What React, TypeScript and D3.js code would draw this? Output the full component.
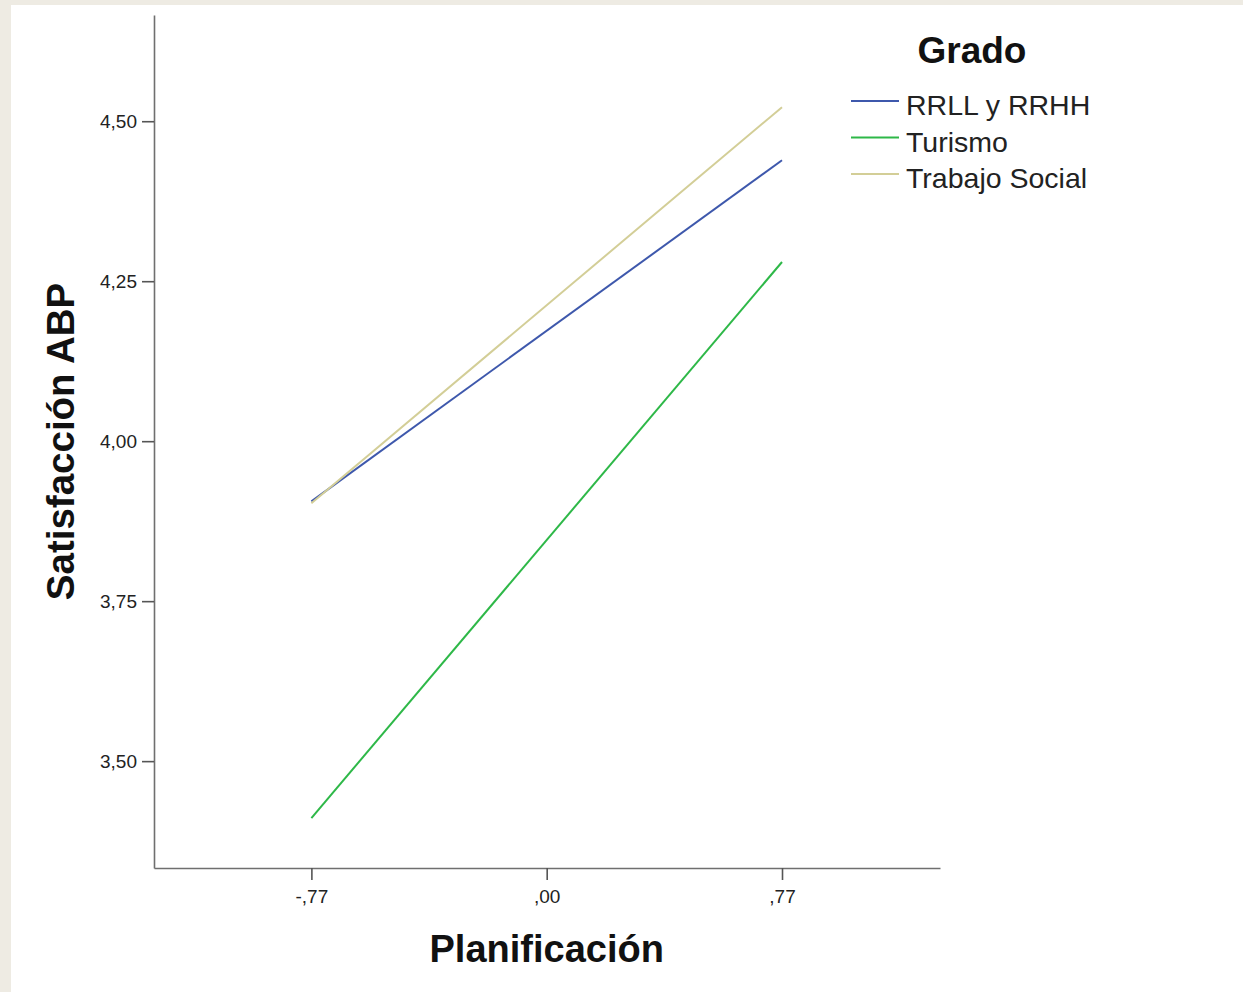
import React, { useEffect, useRef } from "react";
import * as d3 from "d3";

// Estimated marginal means
const grados = ["RRLL y RRHH", "Turismo", "Trabajo Social"];
const colores = ["#3E58AC", "#2EB848", "#D3CE97"];
const planificacionNiveles = [-0.77, 0.77];
const satisfaccionBaja = [3.906, 3.411, 3.903];
const satisfaccionAlta = [4.439, 4.28, 4.522];

const xTicks = [-0.77, 0, 0.77];
const yTicks = [3.5, 3.75, 4.0, 4.25, 4.5];

const W = 1243;
const H = 992;
const FONT = "Liberation Sans, Arial, sans-serif";

// SPSS style numbers: 4,50 / ,00 / -,77
const fmt = (v: number) => {
  const s = Math.abs(v).toFixed(2).replace(".", ",").replace(/^0,/, ",");
  return (v < 0 ? "-" : "") + s;
};

export default function App() {
  const svgRef = useRef<SVGSVGElement | null>(null);

  useEffect(() => {
    const svg = d3.select(svgRef.current);
    svg.selectAll("*").remove();

    const x = d3.scaleLinear().domain([-1.285, 1.287]).range([154, 940]);
    const y = d3.scaleLinear().domain([3.333, 4.666]).range([868, 15]);

    // background frame
    svg.append("rect").attr("width", W).attr("height", H).attr("fill", "#EEEBE3");
    svg
      .append("rect")
      .attr("x", 11)
      .attr("y", 5)
      .attr("width", W - 11)
      .attr("height", H - 5)
      .attr("fill", "#ffffff");

    // axes
    const yAxis = svg
      .append("g")
      .attr("transform", `translate(${x.range()[0]},0)`)
      .call(
        d3
          .axisLeft(y)
          .tickValues(yTicks)
          .tickFormat((d) => fmt(d as number))
          .tickSize(12)
          .tickSizeOuter(0)
          .tickPadding(5)
      );

    const xAxis = svg
      .append("g")
      .attr("transform", `translate(0,${y.range()[0]})`)
      .call(
        d3
          .axisBottom(x)
          .tickValues(xTicks)
          .tickFormat((d) => fmt(d as number))
          .tickSize(12)
          .tickSizeOuter(0)
          .tickPadding(10)
      );

    [yAxis, xAxis].forEach((g) => {
      g.select(".domain").attr("stroke", "#6f6f6f").attr("stroke-width", 1.6);
      g.selectAll(".tick line").attr("stroke", "#555").attr("stroke-width", 1.6);
      g.selectAll(".tick text")
        .attr("fill", "#222")
        .style("font-family", FONT)
        .style("font-size", "19px");
    });

    // lines
    const line = d3
      .line<[number, number]>()
      .x((d) => x(d[0]))
      .y((d) => y(d[1]));

    grados.forEach((g, i) => {
      const pts: [number, number][] = [
        [planificacionNiveles[0], satisfaccionBaja[i]],
        [planificacionNiveles[1], satisfaccionAlta[i]],
      ];
      svg
        .append("path")
        .datum(pts)
        .attr("fill", "none")
        .attr("stroke", colores[i])
        .attr("stroke-width", 2)
        .attr("d", line);
    });

    // axis titles
    svg
      .append("text")
      .attr("x", x(0))
      .attr("y", 962)
      .attr("text-anchor", "middle")
      .style("font-family", FONT)
      .style("font-weight", "bold")
      .style("font-size", "38px")
      .attr("fill", "#111")
      .text("Planificación");

    svg
      .append("text")
      .attr("transform", `translate(74,${(y.range()[0] + y.range()[1]) / 2}) rotate(-90)`)
      .attr("text-anchor", "middle")
      .style("font-family", FONT)
      .style("font-weight", "bold")
      .style("font-size", "38.5px")
      .attr("fill", "#111")
      .text("Satisfacción ABP");

    // legend
    const legend = svg.append("g");
    legend
      .append("text")
      .attr("x", 972)
      .attr("y", 63)
      .attr("text-anchor", "middle")
      .style("font-family", FONT)
      .style("font-weight", "bold")
      .style("font-size", "37px")
      .attr("fill", "#111")
      .text("Grado");

    grados.forEach((g, i) => {
      const ly = 101 + i * 36.5;
      legend
        .append("line")
        .attr("x1", 851)
        .attr("x2", 899)
        .attr("y1", ly)
        .attr("y2", ly)
        .attr("stroke", colores[i])
        .attr("stroke-width", 2);
      legend
        .append("text")
        .attr("x", 906)
        .attr("y", ly + 14)
        .style("font-family", FONT)
        .style("font-size", "28.5px")
        .attr("fill", "#222")
        .text(g);
    });
  }, []);

  return (
    <div style={{ position: "absolute", left: 0, top: 0, width: W, height: H }}>
      <svg ref={svgRef} width={W} height={H} style={{ display: "block" }} />
    </div>
  );
}
